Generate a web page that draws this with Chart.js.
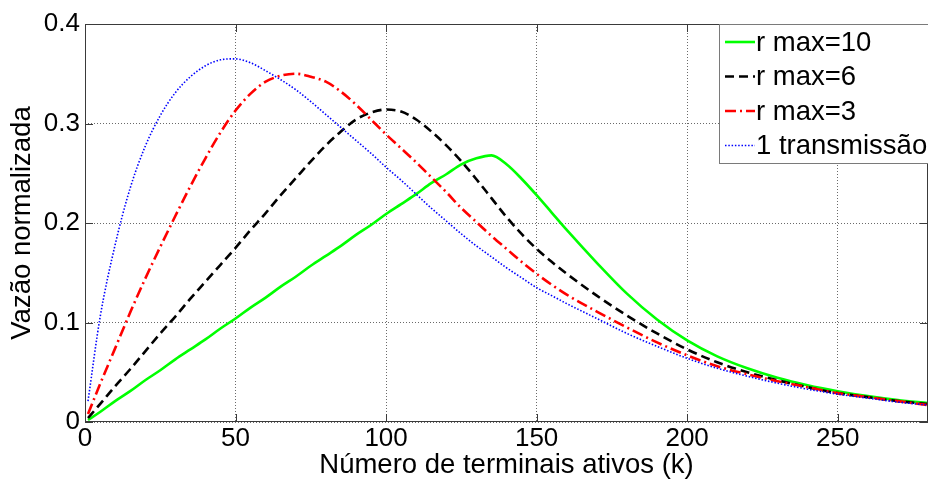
<!DOCTYPE html>
<html><head><meta charset="utf-8">
<script src="https://cdn.jsdelivr.net/npm/chart.js@4"></script>
<style>html,body{margin:0;padding:0;background:#fff;overflow:hidden}</style>
</head><body>
<canvas id="c" width="928" height="484"></canvas>
<script>
// ---- data ----
const kValues = [1,5,10,15,20,25,30,35,40,45,50,55,60,65,70,75,80,85,90,95,100,105,110,115,120,125,130,135,140,145,150,155,160,170,180,190,200,210,220,230,240,250,260,270,280];
const rmax10 = [0.002,0.010,0.021,0.031,0.042,0.052,0.063,0.073,0.083,0.094,0.104,0.115,0.125,0.136,0.146,0.157,0.167,0.177,0.188,0.198,0.209,0.219,0.229,0.240,0.249,0.259,0.265,0.268,0.259,0.2445,0.228,0.2105,0.193,0.160,0.129,0.103,0.082,0.066,0.054,0.0445,0.037,0.031,0.026,0.022,0.019];
const rmax6 = [0.004,0.018,0.036,0.053,0.071,0.089,0.106,0.124,0.141,0.158,0.175,0.193,0.210,0.228,0.245,0.262,0.278,0.292,0.304,0.311,0.314,0.312,0.304,0.292,0.278,0.262,0.244,0.225,0.206,0.189,0.174,0.161,0.149,0.127,0.107,0.089,0.073,0.060,0.050,0.042,0.035,0.029,0.025,0.021,0.018];
const rmax3 = [0.008,0.038,0.074,0.110,0.144,0.176,0.207,0.237,0.265,0.291,0.313,0.330,0.342,0.348,0.350,0.347,0.342,0.332,0.319,0.304,0.289,0.275,0.261,0.246,0.231,0.215,0.201,0.187,0.174,0.161,0.149,0.138,0.128,0.111,0.095,0.080,0.067,0.056,0.048,0.041,0.035,0.029,0.025,0.021,0.017];
const oneTx = [0.021,0.105,0.178,0.235,0.277,0.308,0.331,0.347,0.358,0.364,0.365,0.361,0.353,0.344,0.334,0.322,0.309,0.296,0.283,0.270,0.256,0.243,0.229,0.215,0.202,0.189,0.177,0.166,0.155,0.145,0.135,0.127,0.119,0.104,0.089,0.076,0.064,0.054,0.046,0.039,0.033,0.028,0.024,0.020,0.017];
const seriesLabels = ['r max=10','r max=6','r max=3','1 transmissão'];
const xTicks = [0,50,100,150,200,250];
const yTicks = [0,0.1,0.2,0.3,0.4];
const xTitle = 'Número de terminais ativos (k)';
const yTitle = 'Vazão normalizada';

const FONT = 'Liberation Sans, Arial, Helvetica, sans-serif';
const pts = arr => kValues.map((k,i)=>({x:k,y:arr[i]}));

const styles = [
  {color:'#00ff00', width:2.6, dash:[], order:4},
  {color:'#000000', width:2.6, dash:[9,5], order:3},
  {color:'#ff0000', width:2.6, dash:[11,4,2,4], order:2},
  {color:'#0000ff', width:1.6, dash:[1.5,1.8], order:1}
];
const seriesData = [rmax10, rmax6, rmax3, oneTx];

const datasets = seriesData.map((arr,i)=>({
  label: seriesLabels[i],
  data: pts(arr),
  borderColor: styles[i].color,
  backgroundColor: styles[i].color,
  borderWidth: styles[i].width,
  borderDash: styles[i].dash,
  pointRadius: 0,
  fill: false,
  cubicInterpolationMode: 'monotone',
  order: styles[i].order
}));

const framePlugin = {
  id:'frame',
  afterDraw(chart){
    const ctx = chart.ctx, ca = chart.chartArea;
    const xs = chart.scales.x, ys = chart.scales.y;
    ctx.save();
    ctx.strokeStyle = '#3a3a3a';
    ctx.lineWidth = 1;
    ctx.setLineDash([]);
    ctx.strokeRect(Math.round(ca.left)+0.5, Math.round(ca.top)+0.5, Math.round(ca.right-ca.left)-1, Math.round(ca.bottom-ca.top)-1);
    const tl = 8;
    ctx.beginPath();
    xTicks.forEach(v=>{
      const px = Math.round(xs.getPixelForValue(v))+0.5;
      ctx.moveTo(px, ca.bottom); ctx.lineTo(px, ca.bottom-tl);
      ctx.moveTo(px, ca.top); ctx.lineTo(px, ca.top+tl);
    });
    yTicks.forEach(v=>{
      const py = Math.round(ys.getPixelForValue(v))+0.5;
      ctx.moveTo(ca.left, py); ctx.lineTo(ca.left+tl, py);
      ctx.moveTo(ca.right, py); ctx.lineTo(ca.right-tl, py);
    });
    ctx.stroke();

    // legend box (top-right, inside axes)
    const bx = Math.round(ca.right) - 209, by = Math.round(ca.top);
    const bw = 240, bh = 139;
    ctx.fillStyle = '#ffffff';
    ctx.fillRect(bx, by, bw, bh);
    ctx.strokeStyle = '#7a7a7a';
    ctx.strokeRect(bx+0.5, by+0.5, bw, bh);
    ctx.font = '27.5px ' + FONT;
    ctx.textBaseline = 'middle';
    ctx.textAlign = 'left';
    chart.data.datasets.forEach((ds,i)=>{
      const cy = by + 18 + i*34.5;
      ctx.beginPath();
      ctx.strokeStyle = ds.borderColor;
      ctx.lineWidth = ds.borderWidth;
      ctx.setLineDash(ds.borderDash);
      ctx.moveTo(bx+6, cy); ctx.lineTo(bx+36, cy);
      ctx.stroke();
      ctx.setLineDash([]);
      ctx.fillStyle = '#000';
      ctx.fillText(ds.label, bx+37, cy+1);
    });
    ctx.restore();
  }
};

new Chart(document.getElementById('c'), {
  type:'line',
  data:{datasets},
  options:{
    responsive:false,
    animation:false,
    devicePixelRatio:1,
    layout:{padding:{top:24,right:0,left:0,bottom:0}},
    plugins:{legend:{display:false}, tooltip:{enabled:false}},
    scales:{
      x:{
        type:'linear', min:0, max:280,
        afterBuildTicks: s=>{ s.ticks = xTicks.map(v=>({value:v})); },
        afterFit: s=>{ s.height = 62; },
        grid:{color:'#6a6a6a', lineWidth:1, drawTicks:false},
        border:{display:false, dash:[1,2]},
        ticks:{color:'#000', padding:1, maxRotation:0, font:{family:FONT,size:26}, callback:v=>String(v)},
        title:{display:true, text:xTitle, color:'#000', font:{family:FONT,size:27.5}, padding:{top:0,bottom:2}}
      },
      y:{
        type:'linear', min:0, max:0.4,
        afterBuildTicks: s=>{ s.ticks = yTicks.map(v=>({value:v})); },
        afterFit: s=>{ s.width = 85; },
        grid:{color:'#6a6a6a', lineWidth:1, drawTicks:false},
        border:{display:false, dash:[1,2]},
        ticks:{color:'#000', padding:5, font:{family:FONT,size:26}, callback:v=>String(Math.round(v*10)/10)},
        title:{display:true, text:yTitle, color:'#000', font:{family:FONT,size:27.5}, padding:{top:6,bottom:0}}
      }
    }
  },
  plugins:[framePlugin]
});
</script>
</body></html>
